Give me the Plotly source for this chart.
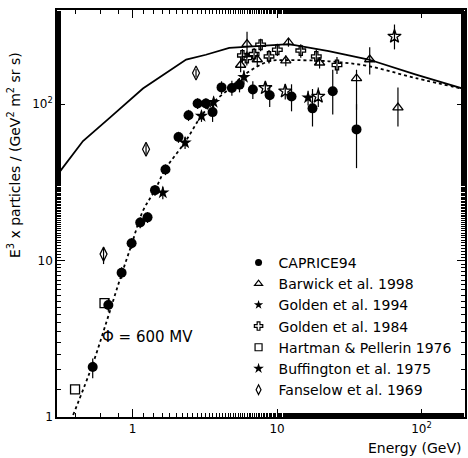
import plotly.graph_objects as go
import numpy as np

# ---- data ----
cap_x = [0.53, 0.68, 0.84, 0.985, 1.13, 1.27, 1.43, 1.69, 2.08, 2.44, 2.82, 3.22, 3.58, 4.13, 4.87, 5.5, 6.8, 8.9, 12.6, 17.6, 24.3, 35.5]
cap_y = [2.09, 5.2, 8.35, 12.9, 17.5, 18.9, 28.2, 38.2, 61.6, 85, 101, 101, 89, 128, 127, 133, 124, 114, 112, 94, 121, 69]
cap_ep = [0.28, 0.5, 0.7, 1.0, 1.4, 1.5, 2.2, 3.0, 5.0, 7, 8, 8, 12, 12, 14, 14, 16, 18, 22, 31, 45, 31]
cap_em = [0.32, 0.5, 0.7, 1.0, 1.4, 1.5, 2.2, 3.0, 5.0, 7, 8, 8, 12, 12, 14, 14, 16, 18, 22, 22, 35, 30]

bar_x = [5.6, 6.2, 7.3, 11.5, 12.0, 19.7, 35.5, 43.8, 68.7]
bar_y = [178, 242, 193, 190, 248, 184, 146, 193, 95]
bar_ep = [18, 48, 20, 15, 15, 15, 20, 38, 33]
bar_em = [18, 40, 20, 15, 15, 15, 54, 38, 23]

g94_x = [1.62, 2.31, 3.0, 3.64, 5.9, 16.4]
g94_y = [27.2, 56.7, 84, 103, 149, 110]
g94_e = [2.5, 5, 7, 9, 15, 12]

g84_x = [5.76, 6.18, 6.94, 7.7, 8.8, 10.05, 14.6, 18.7, 26.0]
g84_y = [205, 197, 209, 240, 202, 223, 220, 202, 178]
g84_e = [20, 20, 20, 22, 20, 20, 22, 22, 22]

buf_x = [8.3, 11.4, 19.3, 65.0]
buf_y = [127, 121, 112, 271]
buf_ep = [12, 14, 16, 52]
buf_em = [12, 14, 16, 47]

hp_x = [0.40, 0.64]
hp_y = [1.50, 5.35]

fan_x = [0.63, 1.24, 2.75]
fan_y = [11.0, 51.5, 158]
fan_ep = [1.2, 4, 10]
fan_em = [1.5, 4, 10]

# interstellar (solid) and modulated (dashed, phi = 600 MV) curves
lis_x = [0.298, 0.349, 0.454, 0.694, 1.18, 2.35, 3.22, 4.67, 12.1, 22.8, 43.1, 90.5, 204]
lis_y = [34.8, 42.3, 58.1, 81.8, 126, 193, 207, 229, 242, 218, 193, 155, 124]

mod_x = [0.388, 0.532, 0.676, 0.813, 0.98, 1.18, 1.42, 1.69, 2.31, 2.99, 3.63, 4.89, 5.76, 8.81, 12.1, 22.8, 43.1, 90.5, 204]
mod_y = [1.03, 2.20, 4.35, 7.46, 12.5, 20.8, 27.9, 38.5, 57.3, 84, 103, 130, 151, 188, 191, 188, 175, 147, 124]

names = ["CAPRICE94", "Barwick et al. 1998", "Golden et al. 1994", "Golden et al. 1984",
         "Hartman &amp; Pellerin 1976", "Buffington et al. 1975", "Fanselow et al. 1969"]

fig = go.Figure()

fig.add_trace(go.Scatter(x=lis_x, y=lis_y, mode="lines", line=dict(color="black", width=1.8),
                         showlegend=False, hoverinfo="skip"))
fig.add_trace(go.Scatter(x=mod_x, y=mod_y, mode="lines", line=dict(color="black", width=1.8, dash="3px,3px"),
                         line_shape="spline", showlegend=False, hoverinfo="skip"))

def eb(ep, em=None):
    d = dict(type="data", array=ep, visible=True, color="black", thickness=1.2, width=0)
    if em is not None:
        d["symmetric"] = False
        d["arrayminus"] = em
    return d

series = [
    (cap_x, cap_y, dict(symbol="circle", size=10, color="black"), eb(cap_ep, cap_em),
     dict(symbol="circle", size=7, color="black")),
    (bar_x, bar_y, dict(symbol="triangle-up-open", size=9, color="black", line=dict(width=1.3)), eb(bar_ep, bar_em),
     dict(symbol="triangle-up-open", size=7, color="black", line=dict(width=1.2))),
    (g94_x, g94_y, dict(symbol="star", size=10, color="black"), eb(g94_e),
     dict(symbol="star", size=7, color="black")),
    (g84_x, g84_y, dict(symbol="cross-open", size=8, color="black", line=dict(width=1.3)), eb(g84_e),
     dict(symbol="cross-open", size=7, color="black", line=dict(width=1.2))),
    (hp_x, hp_y, dict(symbol="square-open", size=9, color="black", line=dict(width=1.3)), None,
     dict(symbol="square-open", size=7, color="black", line=dict(width=1.2))),
    (buf_x, buf_y, dict(symbol="star-open", size=10, color="black", line=dict(width=1.3)), eb(buf_ep, buf_em),
     dict(symbol="star", size=8, color="black")),
    (fan_x, fan_y, dict(symbol="diamond-tall-open", size=10, color="black", line=dict(width=1.2)), eb(fan_ep, fan_em),
     dict(symbol="diamond-tall-open", size=7, color="black", line=dict(width=1.2))),
]

for name, (sx, sy, mk, err, lmk) in zip(names, series):
    kw = dict(x=sx, y=sy, mode="markers", marker=mk, showlegend=False, name=name)
    if err is not None:
        kw["error_y"] = err
    fig.add_trace(go.Scatter(**kw))

for i, (name, (sx, sy, mk, err, lmk)) in enumerate(zip(names, series)):
    fig.add_trace(go.Scatter(x=[None], y=[None], mode="markers", marker=lmk, name=name,
                             legendgroup="g%d" % i, showlegend=True))

axis_common = dict(type="log", showgrid=False, zeroline=False, showline=True, linecolor="black",
                   linewidth=1.5, mirror="ticks", ticks="inside", ticklen=8, tickcolor="black",
                   tickwidth=1,
                   minor=dict(ticks="inside", ticklen=4, tickcolor="black", showgrid=False),
                   tickfont=dict(family="DejaVu Sans", size=12, color="black"))

fig.update_xaxes(**axis_common, range=[np.log10(0.3), np.log10(200)],
                 tickvals=[1, 10, 100], ticktext=["1", "10", "10<sup>2</sup>"])
fig.update_yaxes(**axis_common, range=[0, np.log10(400)],
                 tickvals=[1, 10, 100], ticktext=["1", "10", "10<sup>2</sup>"])

fig.add_annotation(text="Energy (GeV)", xref="paper", yref="paper", x=0.995, y=-0.052,
                   xanchor="right", yanchor="top", showarrow=False,
                   font=dict(family="DejaVu Sans", size=14, color="black"))
fig.add_annotation(text="E<sup>3</sup> x particles / (GeV<sup>2</sup> m<sup>2</sup> sr s)",
                   xref="paper", yref="paper", x=-0.105, y=0.644, textangle=-90,
                   xanchor="center", yanchor="middle", showarrow=False,
                   font=dict(family="DejaVu Sans", size=14, color="black"))
fig.add_annotation(text="\u03a6 = 600 MV", x=np.log10(1.27), y=np.log10(3.23),
                   showarrow=False, xanchor="center", yanchor="middle",
                   font=dict(family="DejaVu Sans", size=15, color="black"))

fig.update_layout(
    width=468, height=458,
    margin=dict(l=57, r=1, t=10, b=41),
    paper_bgcolor="white", plot_bgcolor="white",
    legend=dict(x=0.445, y=0.418, xanchor="left", yanchor="top", bgcolor="rgba(0,0,0,0)",
                font=dict(family="DejaVu Sans", size=14, color="black"),
                itemwidth=30, tracegroupgap=0, traceorder="normal"),
)

fig.write_html("out.html")
